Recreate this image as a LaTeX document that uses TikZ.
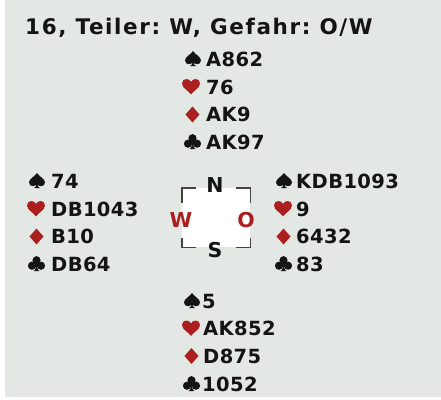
\documentclass[tikz,border=0pt]{standalone}
\usepackage{fontspec}
\setmainfont{DejaVu Sans}
\newfontfamily\handfont[LetterSpace=2]{DejaVu Sans}
\newfontfamily\titlefont[LetterSpace=7.5]{DejaVu Sans}
\usetikzlibrary{calc}
\definecolor{bgcol}{HTML}{E3E8E4}
\definecolor{txtcol}{HTML}{141414}
\definecolor{suitred}{HTML}{AC1F1F}
\definecolor{brkcol}{HTML}{444444}
\frenchspacing
\tikzset{
  spadepic/.pic={\fill[txtcol] (8,-15) .. controls (6,-11.5) and (0,-9.5) .. (0,-5.5)
     .. controls (0,-3) and (2,-1.8) .. (4,-1.8) .. controls (5.6,-1.8) and (7,-2.8) .. (7.6,-3.8)
     .. controls (7.4,-1.8) and (6.5,-0.5) .. (5,0) -- (11,0)
     .. controls (9.5,-0.5) and (8.6,-1.8) .. (8.4,-3.8) .. controls (9,-2.8) and (10.4,-1.8) .. (12,-1.8)
     .. controls (14,-1.8) and (16,-3) .. (16,-5.5) .. controls (16,-9.5) and (10,-11.5) .. (8,-15) -- cycle;},
  heartpic/.pic={\fill[suitred] (9,0.5) .. controls (7,-3) and (0,-6) .. (0,-10.5)
     .. controls (0,-13.5) and (2,-15) .. (4.5,-15) .. controls (6.8,-15) and (8.3,-13.5) .. (9,-12)
     .. controls (9.7,-13.5) and (11.2,-15) .. (13.5,-15) .. controls (16,-15) and (18,-13.5) .. (18,-10.5)
     .. controls (18,-6) and (11,-3) .. (9,0.5) -- cycle;},
  diamondpic/.pic={\fill[suitred] (7,1) -- (0,-7) -- (7,-15) -- (14,-7) -- cycle;},
  clubpic/.pic={\fill[txtcol] (8.5,-10.8) circle (4.1);
     \fill[txtcol] (4,-5.3) circle (4.1);
     \fill[txtcol] (13,-5.3) circle (4.1);
     \fill[txtcol] (8.5,-7) circle (2.8);
     \fill[txtcol] (8.5,-9) -- (7.6,-3) .. controls (7.3,-1.2) and (6.4,-0.3) .. (5.5,0) -- (11.5,0)
       .. controls (10.6,-0.3) and (9.7,-1.2) .. (9.4,-3) -- cycle;},
}
\begin{document}
\begin{tikzpicture}[x=1bp,y=-1bp,
  handline/.style={anchor=base west, inner sep=0, text=txtcol,
    font=\handfont\fontsize{19.5bp}{19.5bp}\selectfont\bfseries},
  dirletter/.style={inner sep=0, font=\fontsize{20.5bp}{20.5bp}\selectfont\bfseries},
  bracket/.style={draw=brkcol, line width=1.4bp},
  titlestyle/.style={anchor=base west, inner sep=0, text=txtcol,
    font=\titlefont\fontsize{21.5bp}{21.5bp}\selectfont\bfseries}]
\useasboundingbox (0,0) rectangle (441,399);
\fill[white] (0,0) rectangle (441,399);
\fill[bgcol] (5,0) rectangle (441,397);

\node[titlestyle] (title) at (25,34) {16, Teiler: W, Gefahr: O/W};

% North
\pic at (185,66) {spadepic};
\pic at (182,94) {heartpic};
\pic at (185.5,121.5) {diamondpic};
\pic at (184,149) {clubpic};
\node[handline] (n1) at (206,66) {A862};
\node[handline] (n2) at (206,94) {76};
\node[handline] (n3) at (206,121.5) {AK9};
\node[handline] (n4) at (206,149) {AK97};
% West
\pic at (29,188) {spadepic};
\pic at (27,216) {heartpic};
\pic at (29.5,243.5) {diamondpic};
\pic at (28,271) {clubpic};
\node[handline] (w1) at (51,188) {74};
\node[handline] (w2) at (51,216) {DB1043};
\node[handline] (w3) at (51,243.5) {B10};
\node[handline] (w4) at (51,271) {DB64};
% East
\pic at (276,188) {spadepic};
\pic at (274,216) {heartpic};
\pic at (276.5,243.5) {diamondpic};
\pic at (275,271) {clubpic};
\node[handline] (e1) at (296,188) {KDB1093};
\node[handline] (e2) at (296,216) {9};
\node[handline] (e3) at (296,243.5) {6432};
\node[handline] (e4) at (296,271) {83};
% South
\pic at (184,308) {spadepic};
\pic at (182,335.5) {heartpic};
\pic at (184.5,363) {diamondpic};
\pic at (183,391) {clubpic};
\node[handline] (s1) at (202,308) {5};
\node[handline] (s2) at (203,335.5) {AK852};
\node[handline] (s3) at (203,363) {D875};
\node[handline] (s4) at (202,391) {1052};

% compass
\node[fill=white, minimum width=68bp, minimum height=59bp, inner sep=0] (box) at (216,217.5) {};
\draw[bracket] ($(box.north west)+(0,15)$) -- (box.north west) -- ++(14,0);
\draw[bracket] ($(box.north east)+(0,15)$) -- (box.north east) -- ++(-14,0);
\draw[bracket] ($(box.south west)+(0,-9)$) -- (box.south west) -- ++(14,0);
\draw[bracket] ($(box.south east)+(0,-9)$) -- (box.south east) -- ++(-14,0);
\node[dirletter, text=txtcol] (dn) at (215,185.5) {N};
\node[dirletter, text=txtcol] (ds) at (215,250) {S};
\node[dirletter, text=suitred] (dw) at (181,220.5) {W};
\node[dirletter, text=suitred] (do) at (246,220.5) {O};
\end{tikzpicture}
\end{document}
